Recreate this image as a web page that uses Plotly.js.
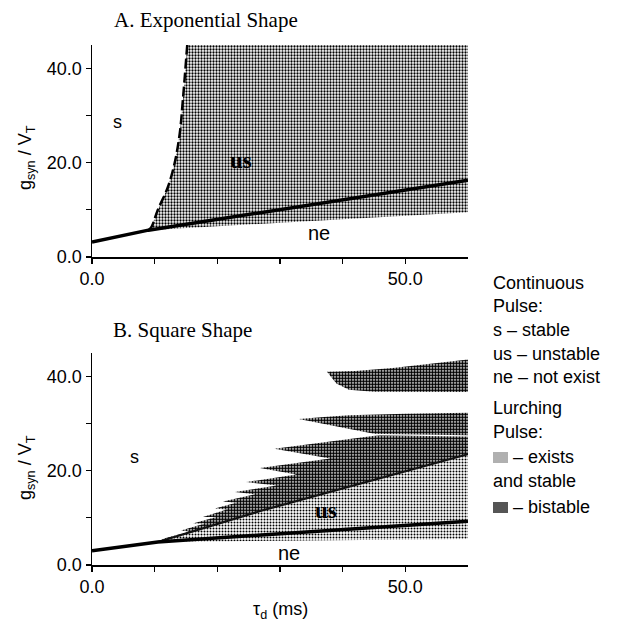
<!DOCTYPE html>
<html>
<head>
<meta charset="utf-8">
<script src="https://cdn.plot.ly/plotly-3.0.1.min.js"></script>
<style>html,body{margin:0;padding:0;background:#fff;}#chart{width:619px;height:625px;}</style>
</head>
<body>
<div id="chart"></div>
<script>
// ---------- Panel A: exponential shape ----------
const expSolidX = [0, 9, 60];
const expSolidY = [3.2, 5.7, 16.3];
const expDashX = [9, 9.5, 10.5, 12.1, 13.2, 14.0, 14.5, 15.2];
const expDashY = [5.7, 6.4, 10.0, 14.8, 20.0, 26.2, 33.3, 45.0];
const expRegionX = [9, 9.5, 10.5, 12.1, 13.2, 14.0, 14.5, 15.2, 60, 60, 9];
const expRegionY = [5.7, 6.4, 10.0, 14.8, 20.0, 26.2, 33.3, 45.0, 45.0, 9.5, 5.7];

// ---------- Panel B: square shape ----------
const sqSolidX = [0, 10.5, 60];
const sqSolidY = [3.0, 4.9, 9.3];
const sqStableX = [10.5, 27, 60, 60, 10.5];
const sqStableY = [4.9, 11.5, 23.5, 5.5, 4.9];
const sqBoundX = [10.5, 27, 60];
const sqBoundY = [4.9, 11.5, 23.5];
const sqSawX = [10.5, 11.5, 15.5, 14.2, 18.0, 16.1, 19.8, 17.7, 21.5, 19.6, 23.0, 20.9, 26.0, 22.8, 29.5, 24.6, 32.6, 26.8, 38.0, 29.1, 46.0, 33.0, 37.0, 41.0, 50.0, 60.0, 60.0, 27.0, 10.5];
const sqSawY = [4.9, 5.6, 7.1, 7.3, 8.8, 8.8, 10.2, 10.2, 11.8, 12.0, 13.2, 13.5, 15.0, 15.5, 16.9, 17.6, 19.2, 20.6, 22.6, 24.7, 27.6, 31.0, 31.4, 31.8, 32.1, 32.3, 23.5, 11.5, 4.9];
const sqGapX = [44.0, 60.0];
const sqGapY = [27.7, 27.4];
const sqTopX = [37.5, 42, 48, 53, 57, 60, 60, 45, 41, 39, 37.5];
const sqTopY = [41.0, 41.2, 41.8, 42.6, 43.2, 43.6, 36.7, 36.8, 37.2, 38.5, 41.0];

// ---------- tick labels ----------
const xTickVals = [0, 10, 20, 30, 40, 50];
const xTickText = ['0.0', '', '', '', '', '50.0'];
const yTickVals = [0, 10, 20, 30, 40];
const yTickText = ['0.0', '', '20.0', '', '40.0'];

// ---------- legend text ----------
const legendLines = ['Continuous', 'Pulse:', 's \u2013 stable', 'us \u2013 unstable', 'ne \u2013 not exist', 'Lurching', 'Pulse:', '    \u2013 exists', 'and stable', '    \u2013 bistable'];
const legendYpx = [283, 306, 330, 354, 377, 408, 432, 457, 481, 507];

const W = 619, H = 625;
const px = v => v / W;
const py = v => 1 - v / H;

function pat(sol) {
  return {shape: '.', size: 3, solidity: sol, fgcolor: '#000', bgcolor: '#fff'};
}

const traces = [
  {x: expRegionX, y: expRegionY, xaxis: 'x', yaxis: 'y', mode: 'lines', fill: 'toself',
   line: {width: 0, color: 'rgba(0,0,0,0)'}, fillcolor: '#888', fillpattern: pat(0.45), hoverinfo: 'skip'},
  {x: expSolidX, y: expSolidY, xaxis: 'x', yaxis: 'y', mode: 'lines', line: {color: '#000', width: 3.5}},
  {x: expDashX, y: expDashY, xaxis: 'x', yaxis: 'y', mode: 'lines', line: {color: '#000', width: 2.5, dash: '10px,4px', shape: 'spline'}},

  {x: sqStableX, y: sqStableY, xaxis: 'x2', yaxis: 'y2', mode: 'lines', fill: 'toself',
   line: {width: 0, color: 'rgba(0,0,0,0)'}, fillcolor: '#aaa', fillpattern: pat(0.35), hoverinfo: 'skip'},
  {x: sqSawX, y: sqSawY, xaxis: 'x2', yaxis: 'y2', mode: 'lines', fill: 'toself',
   line: {width: 0, color: 'rgba(0,0,0,0)'}, fillcolor: '#444', fillpattern: pat(0.7), hoverinfo: 'skip'},
  {x: sqTopX, y: sqTopY, xaxis: 'x2', yaxis: 'y2', mode: 'lines', fill: 'toself',
   line: {width: 0, color: 'rgba(0,0,0,0)'}, fillcolor: '#444', fillpattern: pat(0.7), hoverinfo: 'skip'},
  {x: sqGapX, y: sqGapY, xaxis: 'x2', yaxis: 'y2', mode: 'lines', line: {color: '#fff', width: 1.3}},
  {x: sqBoundX, y: sqBoundY, xaxis: 'x2', yaxis: 'y2', mode: 'lines', line: {color: '#111', width: 2}},
  {x: sqSolidX, y: sqSolidY, xaxis: 'x2', yaxis: 'y2', mode: 'lines', line: {color: '#000', width: 3.5}}
];

const axX = (dom, anchor) => ({
  domain: dom, anchor: anchor, range: [0, 60], showgrid: false, zeroline: false,
  showline: true, linecolor: '#000', linewidth: 1.5, ticks: 'outside', ticklen: 5, tickwidth: 1.2,
  tickcolor: '#000', tickmode: 'array', tickvals: xTickVals, ticktext: xTickText,
  tickfont: {family: 'Liberation Sans, Arial, sans-serif', size: 18, color: '#000'}
});
const axY = (dom, anchor) => ({
  domain: dom, anchor: anchor, range: [0, 45], showgrid: false, zeroline: false,
  showline: true, linecolor: '#000', linewidth: 1.5, ticks: 'outside', ticklen: 5, tickwidth: 1.2,
  tickcolor: '#000', tickmode: 'array', tickvals: yTickVals, ticktext: yTickText,
  tickfont: {family: 'Liberation Sans, Arial, sans-serif', size: 18, color: '#000'}
});

const sans = {family: 'Liberation Sans, Arial, sans-serif', size: 18, color: '#000'};
const serif = {family: 'Liberation Serif, Times New Roman, serif', size: 21, color: '#000'};
const usFont = {family: 'Liberation Serif, Times New Roman, serif', size: 23, color: '#000'};
const neFont = {family: 'Liberation Sans, Arial, sans-serif', size: 20, color: '#000'};

const annotations = [
  {xref: 'paper', yref: 'paper', x: px(206), y: py(20), text: 'A. Exponential Shape', showarrow: false, font: serif, xanchor: 'center', yanchor: 'middle'},
  {xref: 'paper', yref: 'paper', x: px(182), y: py(330), text: 'B. Square Shape', showarrow: false, font: serif, xanchor: 'center', yanchor: 'middle'},
  {xref: 'paper', yref: 'paper', x: px(26), y: py(158), text: 'g<sub>syn</sub> / V<sub>T</sub>', textangle: -90, showarrow: false, font: sans, xanchor: 'center', yanchor: 'middle'},
  {xref: 'paper', yref: 'paper', x: px(26), y: py(468), text: 'g<sub>syn</sub> / V<sub>T</sub>', textangle: -90, showarrow: false, font: sans, xanchor: 'center', yanchor: 'middle'},
  {xref: 'paper', yref: 'paper', x: px(280), y: py(610), text: '\u03c4<sub>d</sub> (ms)', showarrow: false, font: sans, xanchor: 'center', yanchor: 'middle'},
  // region labels
  {xref: 'x', yref: 'y', x: 4.1, y: 28.6, text: 's', showarrow: false, font: sans},
  {xref: 'x', yref: 'y', x: 23.8, y: 20.5, text: '<b>us</b>', showarrow: false, font: usFont},
  {xref: 'x', yref: 'y', x: 36.3, y: 5.0, text: 'ne', showarrow: false, font: neFont},
  {xref: 'x2', yref: 'y2', x: 6.8, y: 22.9, text: 's', showarrow: false, font: sans},
  {xref: 'x2', yref: 'y2', x: 37.4, y: 11.6, text: '<b>us</b>', showarrow: false, font: usFont},
  {xref: 'x2', yref: 'y2', x: 31.5, y: 2.6, text: 'ne', showarrow: false, font: neFont},
  // arrows
  {xref: 'x', yref: 'y', x: 61.2, y: 10.0, ax: 18, ay: 0, text: '', showarrow: true, arrowhead: 2, arrowsize: 1, arrowwidth: 1.3, arrowcolor: '#000'},
  {xref: 'x2', yref: 'y2', x: 61.2, y: 5.5, ax: 18, ay: 0, text: '', showarrow: true, arrowhead: 2, arrowsize: 1, arrowwidth: 1.3, arrowcolor: '#000'}
];
legendLines.forEach((t, i) => {
  annotations.push({xref: 'paper', yref: 'paper', x: px(491), y: py(legendYpx[i]), text: t, showarrow: false,
    xanchor: 'left', yanchor: 'middle', font: sans});
});

const shapes = [
  {type: 'rect', xref: 'paper', yref: 'paper', x0: px(493), x1: px(508), y0: py(463), y1: py(452), fillcolor: '#b0b0b0', line: {width: 0}},
  {type: 'rect', xref: 'paper', yref: 'paper', x0: px(493), x1: px(508), y0: py(513), y1: py(502), fillcolor: '#555', line: {width: 0}}
];

const layout = {
  width: W, height: H,
  margin: {l: 0, r: 0, t: 0, b: 0},
  paper_bgcolor: '#fff', plot_bgcolor: '#fff',
  showlegend: false,
  xaxis: axX([px(92), px(468)], 'y'),
  yaxis: axY([py(257), py(45)], 'x'),
  xaxis2: axX([px(92), px(468)], 'y2'),
  yaxis2: axY([py(565), py(353)], 'x2'),
  annotations: annotations,
  shapes: shapes
};

Plotly.newPlot('chart', traces, layout, {displayModeBar: false, staticPlot: true});
</script>
</body>
</html>
